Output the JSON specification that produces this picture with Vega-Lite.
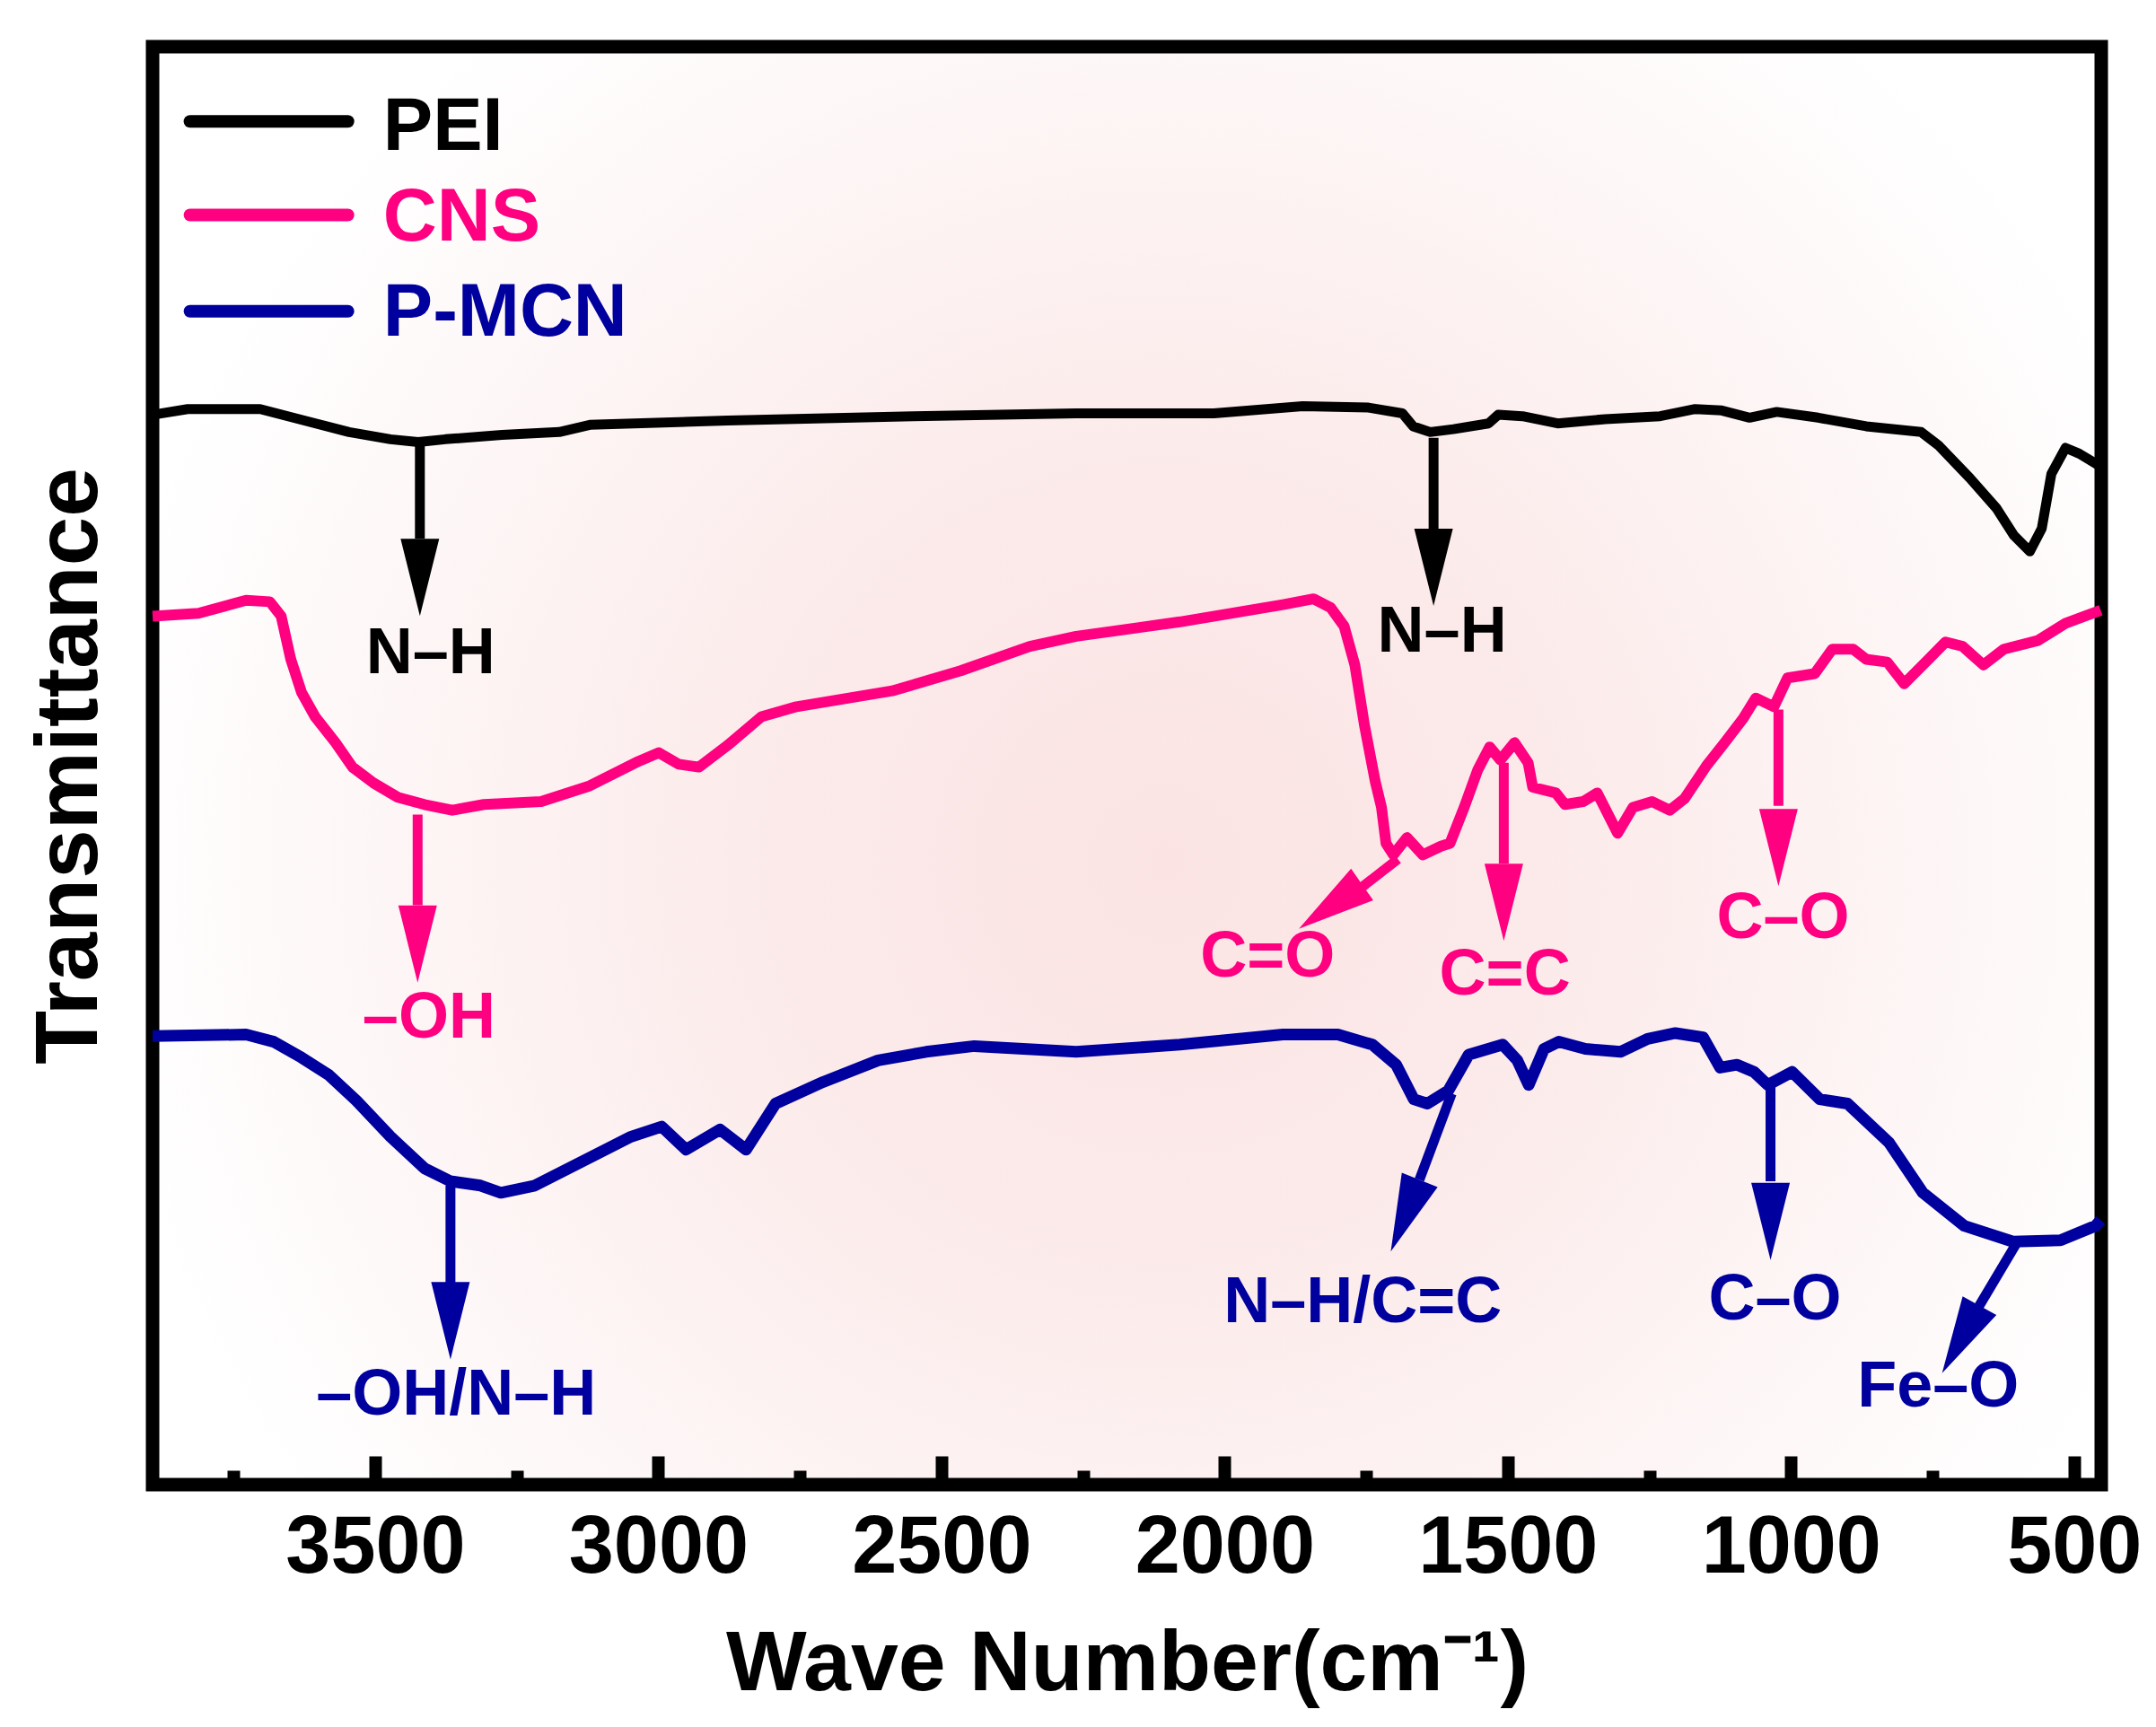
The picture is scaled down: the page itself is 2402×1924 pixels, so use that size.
{
  "$schema": "https://vega.github.io/schema/vega-lite/v6.json",
  "width": 2171,
  "height": 1602,
  "autosize": {"type": "none"},
  "padding": {"left": 170, "top": 52, "right": 61, "bottom": 270},
  "background": "white",
  "datasets": {
    "spectra": [
      {"sample": "PEI", "wn": 3893, "t": 74.4}, {"sample": "PEI", "wn": 3831, "t": 74.8},
      {"sample": "PEI", "wn": 3703, "t": 74.8}, {"sample": "PEI", "wn": 3625, "t": 74.0},
      {"sample": "PEI", "wn": 3546, "t": 73.2}, {"sample": "PEI", "wn": 3473, "t": 72.7},
      {"sample": "PEI", "wn": 3424, "t": 72.5}, {"sample": "PEI", "wn": 3376, "t": 72.7},
      {"sample": "PEI", "wn": 3276, "t": 73.0}, {"sample": "PEI", "wn": 3175, "t": 73.2},
      {"sample": "PEI", "wn": 3121, "t": 73.7}, {"sample": "PEI", "wn": 2878, "t": 74.0},
      {"sample": "PEI", "wn": 2550, "t": 74.3}, {"sample": "PEI", "wn": 2262, "t": 74.5},
      {"sample": "PEI", "wn": 2019, "t": 74.5}, {"sample": "PEI", "wn": 1862, "t": 75.0},
      {"sample": "PEI", "wn": 1746, "t": 74.9}, {"sample": "PEI", "wn": 1686, "t": 74.5},
      {"sample": "PEI", "wn": 1667, "t": 73.6}, {"sample": "PEI", "wn": 1637, "t": 73.2},
      {"sample": "PEI", "wn": 1596, "t": 73.4}, {"sample": "PEI", "wn": 1534, "t": 73.8},
      {"sample": "PEI", "wn": 1517, "t": 74.4}, {"sample": "PEI", "wn": 1474, "t": 74.3},
      {"sample": "PEI", "wn": 1412, "t": 73.8}, {"sample": "PEI", "wn": 1328, "t": 74.1},
      {"sample": "PEI", "wn": 1231, "t": 74.3}, {"sample": "PEI", "wn": 1169, "t": 74.8},
      {"sample": "PEI", "wn": 1122, "t": 74.7}, {"sample": "PEI", "wn": 1073, "t": 74.2},
      {"sample": "PEI", "wn": 1025, "t": 74.6}, {"sample": "PEI", "wn": 952, "t": 74.2},
      {"sample": "PEI", "wn": 867, "t": 73.6}, {"sample": "PEI", "wn": 770, "t": 73.2},
      {"sample": "PEI", "wn": 740, "t": 72.3}, {"sample": "PEI", "wn": 684, "t": 70.0},
      {"sample": "PEI", "wn": 637, "t": 67.9}, {"sample": "PEI", "wn": 606, "t": 66.0},
      {"sample": "PEI", "wn": 578, "t": 64.9}, {"sample": "PEI", "wn": 557, "t": 66.5},
      {"sample": "PEI", "wn": 540, "t": 70.3}, {"sample": "PEI", "wn": 515, "t": 72.1},
      {"sample": "PEI", "wn": 491, "t": 71.7}, {"sample": "PEI", "wn": 453, "t": 70.8},

      {"sample": "CNS", "wn": 3893, "t": 60.4}, {"sample": "CNS", "wn": 3812, "t": 60.6},
      {"sample": "CNS", "wn": 3728, "t": 61.5}, {"sample": "CNS", "wn": 3686, "t": 61.4},
      {"sample": "CNS", "wn": 3666, "t": 60.4}, {"sample": "CNS", "wn": 3649, "t": 57.4},
      {"sample": "CNS", "wn": 3630, "t": 55.1}, {"sample": "CNS", "wn": 3606, "t": 53.4},
      {"sample": "CNS", "wn": 3570, "t": 51.6}, {"sample": "CNS", "wn": 3540, "t": 49.9},
      {"sample": "CNS", "wn": 3503, "t": 48.8}, {"sample": "CNS", "wn": 3460, "t": 47.8},
      {"sample": "CNS", "wn": 3413, "t": 47.3}, {"sample": "CNS", "wn": 3364, "t": 46.9},
      {"sample": "CNS", "wn": 3308, "t": 47.3}, {"sample": "CNS", "wn": 3207, "t": 47.5},
      {"sample": "CNS", "wn": 3121, "t": 48.6}, {"sample": "CNS", "wn": 3035, "t": 50.3},
      {"sample": "CNS", "wn": 2999, "t": 50.9}, {"sample": "CNS", "wn": 2964, "t": 50.1},
      {"sample": "CNS", "wn": 2928, "t": 49.9}, {"sample": "CNS", "wn": 2878, "t": 51.4},
      {"sample": "CNS", "wn": 2818, "t": 53.4}, {"sample": "CNS", "wn": 2756, "t": 54.1},
      {"sample": "CNS", "wn": 2587, "t": 55.2}, {"sample": "CNS", "wn": 2466, "t": 56.6},
      {"sample": "CNS", "wn": 2344, "t": 58.3}, {"sample": "CNS", "wn": 2262, "t": 59.0},
      {"sample": "CNS", "wn": 2079, "t": 60.0}, {"sample": "CNS", "wn": 1897, "t": 61.2},
      {"sample": "CNS", "wn": 1843, "t": 61.6}, {"sample": "CNS", "wn": 1813, "t": 61.0},
      {"sample": "CNS", "wn": 1789, "t": 59.7}, {"sample": "CNS", "wn": 1770, "t": 57.0},
      {"sample": "CNS", "wn": 1753, "t": 52.8}, {"sample": "CNS", "wn": 1734, "t": 48.9},
      {"sample": "CNS", "wn": 1723, "t": 47.1}, {"sample": "CNS", "wn": 1715, "t": 44.6},
      {"sample": "CNS", "wn": 1702, "t": 43.8}, {"sample": "CNS", "wn": 1678, "t": 45.0},
      {"sample": "CNS", "wn": 1650, "t": 43.8}, {"sample": "CNS", "wn": 1618, "t": 44.4},
      {"sample": "CNS", "wn": 1602, "t": 44.6}, {"sample": "CNS", "wn": 1577, "t": 47.1},
      {"sample": "CNS", "wn": 1553, "t": 49.7}, {"sample": "CNS", "wn": 1532, "t": 51.3},
      {"sample": "CNS", "wn": 1513, "t": 50.4}, {"sample": "CNS", "wn": 1488, "t": 51.6},
      {"sample": "CNS", "wn": 1464, "t": 50.2}, {"sample": "CNS", "wn": 1456, "t": 48.5},
      {"sample": "CNS", "wn": 1415, "t": 48.1}, {"sample": "CNS", "wn": 1399, "t": 47.3},
      {"sample": "CNS", "wn": 1367, "t": 47.5}, {"sample": "CNS", "wn": 1342, "t": 48.1},
      {"sample": "CNS", "wn": 1306, "t": 45.3}, {"sample": "CNS", "wn": 1279, "t": 47.1},
      {"sample": "CNS", "wn": 1245, "t": 47.5}, {"sample": "CNS", "wn": 1214, "t": 46.9},
      {"sample": "CNS", "wn": 1188, "t": 47.7}, {"sample": "CNS", "wn": 1149, "t": 50.0},
      {"sample": "CNS", "wn": 1117, "t": 51.6}, {"sample": "CNS", "wn": 1084, "t": 53.3},
      {"sample": "CNS", "wn": 1062, "t": 54.7}, {"sample": "CNS", "wn": 1030, "t": 54.1},
      {"sample": "CNS", "wn": 1006, "t": 56.1}, {"sample": "CNS", "wn": 958, "t": 56.4},
      {"sample": "CNS", "wn": 927, "t": 58.1}, {"sample": "CNS", "wn": 890, "t": 58.1},
      {"sample": "CNS", "wn": 867, "t": 57.4}, {"sample": "CNS", "wn": 830, "t": 57.2},
      {"sample": "CNS", "wn": 800, "t": 55.7}, {"sample": "CNS", "wn": 757, "t": 57.4},
      {"sample": "CNS", "wn": 727, "t": 58.6}, {"sample": "CNS", "wn": 697, "t": 58.3},
      {"sample": "CNS", "wn": 660, "t": 57.0}, {"sample": "CNS", "wn": 624, "t": 58.1},
      {"sample": "CNS", "wn": 564, "t": 58.7}, {"sample": "CNS", "wn": 515, "t": 59.9},
      {"sample": "CNS", "wn": 453, "t": 60.8},

      {"sample": "P-MCN", "wn": 3893, "t": 31.2}, {"sample": "P-MCN", "wn": 3728, "t": 31.3},
      {"sample": "P-MCN", "wn": 3679, "t": 30.8}, {"sample": "P-MCN", "wn": 3630, "t": 29.7},
      {"sample": "P-MCN", "wn": 3582, "t": 28.5}, {"sample": "P-MCN", "wn": 3533, "t": 26.7},
      {"sample": "P-MCN", "wn": 3473, "t": 24.2}, {"sample": "P-MCN", "wn": 3413, "t": 22.0},
      {"sample": "P-MCN", "wn": 3367, "t": 21.1}, {"sample": "P-MCN", "wn": 3314, "t": 20.8},
      {"sample": "P-MCN", "wn": 3278, "t": 20.3}, {"sample": "P-MCN", "wn": 3218, "t": 20.8},
      {"sample": "P-MCN", "wn": 3108, "t": 23.0}, {"sample": "P-MCN", "wn": 3048, "t": 24.2},
      {"sample": "P-MCN", "wn": 2994, "t": 24.9}, {"sample": "P-MCN", "wn": 2951, "t": 23.3},
      {"sample": "P-MCN", "wn": 2891, "t": 24.7}, {"sample": "P-MCN", "wn": 2845, "t": 23.3},
      {"sample": "P-MCN", "wn": 2793, "t": 26.5}, {"sample": "P-MCN", "wn": 2709, "t": 28.0},
      {"sample": "P-MCN", "wn": 2612, "t": 29.5}, {"sample": "P-MCN", "wn": 2527, "t": 30.1},
      {"sample": "P-MCN", "wn": 2442, "t": 30.5}, {"sample": "P-MCN", "wn": 2262, "t": 30.1},
      {"sample": "P-MCN", "wn": 2079, "t": 30.6}, {"sample": "P-MCN", "wn": 1897, "t": 31.3},
      {"sample": "P-MCN", "wn": 1800, "t": 31.3}, {"sample": "P-MCN", "wn": 1739, "t": 30.6},
      {"sample": "P-MCN", "wn": 1697, "t": 29.2}, {"sample": "P-MCN", "wn": 1666, "t": 26.8},
      {"sample": "P-MCN", "wn": 1642, "t": 26.5}, {"sample": "P-MCN", "wn": 1605, "t": 27.4},
      {"sample": "P-MCN", "wn": 1569, "t": 29.9}, {"sample": "P-MCN", "wn": 1509, "t": 30.6},
      {"sample": "P-MCN", "wn": 1483, "t": 29.5}, {"sample": "P-MCN", "wn": 1463, "t": 27.8},
      {"sample": "P-MCN", "wn": 1436, "t": 30.3}, {"sample": "P-MCN", "wn": 1410, "t": 30.8},
      {"sample": "P-MCN", "wn": 1363, "t": 30.3}, {"sample": "P-MCN", "wn": 1301, "t": 30.1},
      {"sample": "P-MCN", "wn": 1253, "t": 31.0}, {"sample": "P-MCN", "wn": 1204, "t": 31.4},
      {"sample": "P-MCN", "wn": 1155, "t": 31.1}, {"sample": "P-MCN", "wn": 1125, "t": 29.0},
      {"sample": "P-MCN", "wn": 1095, "t": 29.2}, {"sample": "P-MCN", "wn": 1065, "t": 28.7},
      {"sample": "P-MCN", "wn": 1041, "t": 27.8}, {"sample": "P-MCN", "wn": 998, "t": 28.7},
      {"sample": "P-MCN", "wn": 949, "t": 26.8}, {"sample": "P-MCN", "wn": 900, "t": 26.5},
      {"sample": "P-MCN", "wn": 827, "t": 23.8}, {"sample": "P-MCN", "wn": 767, "t": 20.3},
      {"sample": "P-MCN", "wn": 694, "t": 18.0}, {"sample": "P-MCN", "wn": 608, "t": 16.9},
      {"sample": "P-MCN", "wn": 524, "t": 17.0}, {"sample": "P-MCN", "wn": 462, "t": 18.0},
      {"sample": "P-MCN", "wn": 453, "t": 18.4}
    ],
    "arrows": [
      {"sample": "PEI", "x": 3421, "y": 72.5, "xb": 3421, "yb": 65.8, "xh": 3421, "yh": 63.1, "angle": 0},
      {"sample": "PEI", "x": 1631, "y": 72.8, "xb": 1631, "yb": 66.4, "xh": 1631, "yh": 63.8, "angle": 0},
      {"sample": "CNS", "x": 3425, "y": 46.6, "xb": 3425, "yb": 40.3, "xh": 3425, "yh": 37.6, "angle": 0},
      {"sample": "CNS", "x": 1694, "y": 43.5, "xb": 1756, "yb": 41.6, "xh": 1813, "yh": 40.2, "angle": 55},
      {"sample": "CNS", "x": 1507, "y": 50.2, "xb": 1507, "yb": 43.2, "xh": 1507, "yh": 40.5, "angle": 0},
      {"sample": "CNS", "x": 1022, "y": 53.9, "xb": 1022, "yb": 47.2, "xh": 1022, "yh": 44.3, "angle": 0},
      {"sample": "P-MCN", "x": 3367, "y": 20.8, "xb": 3367, "yb": 14.0, "xh": 3367, "yh": 11.4, "angle": 0},
      {"sample": "P-MCN", "x": 1599, "y": 27.2, "xb": 1656, "yb": 21.2, "xh": 1681, "yh": 18.7, "angle": 22},
      {"sample": "P-MCN", "x": 1036, "y": 27.8, "xb": 1036, "yb": 21.1, "xh": 1036, "yh": 18.3, "angle": 0},
      {"sample": "P-MCN", "x": 603, "y": 16.7, "xb": 668, "yb": 12.4, "xh": 700, "yh": 10.1, "angle": 29}
    ],
    "labels": [
      {"sample": "PEI", "text": "N–H", "x": 3402, "y": 56.4},
      {"sample": "PEI", "text": "N–H", "x": 1616, "y": 57.9},
      {"sample": "CNS", "text": "–OH", "x": 3405, "y": 31.1},
      {"sample": "CNS", "text": "C=O", "x": 1924, "y": 35.3},
      {"sample": "CNS", "text": "C=C", "x": 1505, "y": 34.1},
      {"sample": "CNS", "text": "C–O", "x": 1014, "y": 38.0},
      {"sample": "P-MCN", "text": "–OH/N–H", "x": 3357, "y": 4.9},
      {"sample": "P-MCN", "text": "N–H/C=C", "x": 1756, "y": 11.3},
      {"sample": "P-MCN", "text": "C–O", "x": 1028, "y": 11.5},
      {"sample": "P-MCN", "text": "Fe–O", "x": 740, "y": 5.4}
    ],
    "key": [
      {"sample": "PEI", "x": 3827, "x2": 3548, "y": 94.8, "tx": 3486, "ty": 92.8},
      {"sample": "CNS", "x": 3827, "x2": 3548, "y": 88.3, "tx": 3486, "ty": 86.5},
      {"sample": "P-MCN", "x": 3827, "x2": 3548, "y": 81.6, "tx": 3486, "ty": 79.9}
    ]
  },
  "layer": [
    {
      "data": {"name": "spectra"},
      "mark": {"type": "line", "strokeJoin": "round", "strokeCap": "butt", "interpolate": "linear"},
      "encoding": {
        "x": {
          "field": "wn",
          "type": "quantitative",
          "scale": {"domain": [452, 3893], "reverse": true, "nice": false, "zero": false},
          "axis": {
            "orient": "bottom",
            "values": [3750, 3500, 3250, 3000, 2750, 2500, 2250, 2000, 1750, 1500, 1250, 1000, 750, 500],
            "format": "d",
            "labelExpr": "datum.value % 500 === 0 ? datum.label : ''",
            "domain": false,
            "grid": false,
            "tickSize": {"condition": {"test": "datum.value % 500 === 0", "value": -32}, "value": -16},
            "tickWidth": 14,
            "tickColor": "black",
            "labelFont": "Liberation Sans",
            "labelFontWeight": "bold",
            "labelFontSize": 90,
            "labelColor": "black",
            "labelPadding": 58,
            "labelLimit": 0,
            "labelFlush": false,
            "labelOverlap": false,
            "title": "Wave Number(cm⁻¹)",
            "titleFont": "Liberation Sans",
            "titleFontWeight": "bold",
            "titleFontSize": 95,
            "titleColor": "black",
            "titlePadding": 22
          }
        },
        "y": {
          "field": "t",
          "type": "quantitative",
          "scale": {"domain": [0, 100], "nice": false, "zero": false},
          "axis": {
            "orient": "left",
            "labels": false,
            "ticks": false,
            "domain": false,
            "grid": false,
            "title": "Transmittance",
            "titleFont": "Liberation Sans",
            "titleFontWeight": "bold",
            "titleFontSize": 98,
            "titleColor": "black",
            "titleBaseline": "alphabetic",
            "titlePadding": 63
          }
        },
        "color": {
          "field": "sample",
          "type": "nominal",
          "scale": {"domain": ["PEI", "CNS", "P-MCN"], "range": ["#000000", "#ff0080", "#00009e"]},
          "legend": null
        },
        "strokeWidth": {
          "field": "sample",
          "type": "nominal",
          "scale": {"domain": ["PEI", "CNS", "P-MCN"], "range": [11, 13, 13]},
          "legend": null
        },
        "detail": {"field": "sample"},
        "order": {"field": "wn", "sort": "descending"}
      }
    },
    {
      "data": {"name": "arrows"},
      "mark": {"type": "rule", "strokeWidth": 11},
      "encoding": {
        "x": {"field": "x", "type": "quantitative"},
        "y": {"field": "y", "type": "quantitative"},
        "x2": {"field": "xb"},
        "y2": {"field": "yb"},
        "color": {"field": "sample", "type": "nominal", "legend": null}
      }
    },
    {
      "data": {"name": "arrows"},
      "mark": {"type": "point", "shape": "M-0.5,-1L0.5,-1L0,1Z", "filled": true, "opacity": 1, "size": 7400, "strokeWidth": 0},
      "encoding": {
        "x": {"field": "xh", "type": "quantitative"},
        "y": {"field": "yh", "type": "quantitative"},
        "angle": {"field": "angle", "type": "quantitative", "scale": null},
        "color": {"field": "sample", "type": "nominal", "legend": null}
      }
    },
    {
      "data": {"name": "labels"},
      "mark": {"type": "text", "font": "Liberation Sans", "fontWeight": "bold", "fontSize": 72, "align": "center", "baseline": "alphabetic"},
      "encoding": {
        "x": {"field": "x", "type": "quantitative"},
        "y": {"field": "y", "type": "quantitative"},
        "text": {"field": "text"},
        "color": {"field": "sample", "type": "nominal", "legend": null}
      }
    },
    {
      "data": {"name": "key"},
      "mark": {"type": "rule", "strokeWidth": 14, "strokeCap": "round"},
      "encoding": {
        "x": {"field": "x", "type": "quantitative"},
        "x2": {"field": "x2"},
        "y": {"field": "y", "type": "quantitative"},
        "color": {"field": "sample", "type": "nominal", "legend": null}
      }
    },
    {
      "data": {"name": "key"},
      "mark": {"type": "text", "font": "Liberation Sans", "fontWeight": "bold", "fontSize": 83, "align": "left", "baseline": "alphabetic"},
      "encoding": {
        "x": {"field": "tx", "type": "quantitative"},
        "y": {"field": "ty", "type": "quantitative"},
        "text": {"field": "sample"},
        "color": {"field": "sample", "type": "nominal", "legend": null}
      }
    }
  ],
  "config": {
    "view": {
      "stroke": "#000000",
      "strokeWidth": 15,
      "fill": {
        "gradient": "radial",
        "x1": 0.52, "y1": 0.55, "r1": 0,
        "x2": 0.52, "y2": 0.55, "r2": 0.55,
        "stops": [
          {"offset": 0, "color": "#fbe3e3"},
          {"offset": 0.4, "color": "#fcebeb"},
          {"offset": 1, "color": "#ffffff"}
        ]
      }
    }
  }
}
